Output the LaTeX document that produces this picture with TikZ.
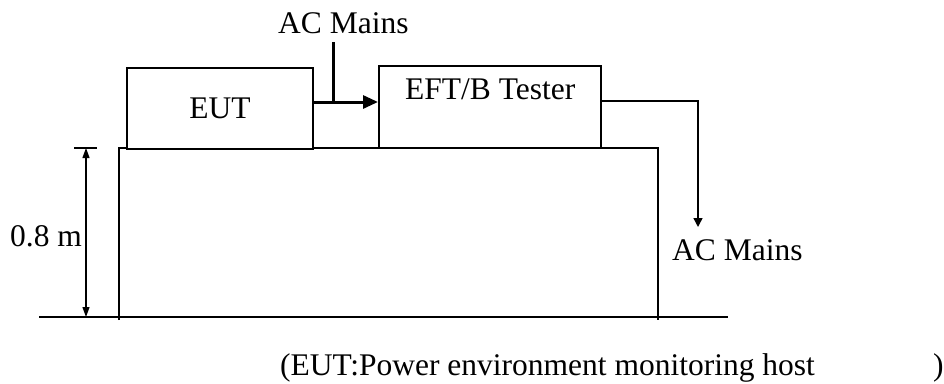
\documentclass[tikz,border=0pt]{standalone}
\usepackage{fontspec}
\setmainfont{Liberation Serif}
\usetikzlibrary{arrows.meta}
\begin{document}
\begin{tikzpicture}[x=1pt,y=-1pt,
  txt/.style={inner sep=0pt,anchor=base west,font=\fontsize{31.5}{36}\selectfont},
  boxnode/.style={draw,line width=2pt,fill=white,inner sep=0pt,font=\fontsize{31.5}{36}\selectfont},
  thinline/.style={line width=1.4pt},
  thickarrow/.style={line width=3pt,-{Triangle[length=15pt,width=13pt]}},
  thinarrow/.style={line width=1.4pt,-{Triangle[length=9pt,width=9pt]}},
  dimarrow/.style={line width=1.2pt,{Triangle[length=10pt,width=7pt]}-{Triangle[length=10pt,width=7pt]}}]
\useasboundingbox (0,0) rectangle (944,383);
\fill[white] (0,0) rectangle (944,383);
% table
\coordinate (tbl) at (119,320);
\coordinate (ttl) at (119,148);
\coordinate (ttr) at (658,148);
\coordinate (tbr) at (658,320);
\draw[thinline] (tbl) -- (ttl) -- (ttr) -- (tbr);
% ground
\coordinate (g1) at (39,317);
\coordinate (g2) at (728,317);
\draw[line width=2pt] (g1) -- (g2);
% boxes
\node[boxnode,minimum width=186pt,minimum height=81pt] (eut) at (220,108.5) {EUT};
\node[boxnode,minimum width=222pt,minimum height=82pt] (eft) at (490,107) {};
\node[txt] (eftlabel) at (405,99) {EFT/B Tester};
% AC mains top
\node[txt] (acm1) at (278,33) {AC Mains};
\coordinate (acmtop) at (333,42);
\coordinate (j) at (333,102);
\draw[line width=3pt] (acmtop) -- (j);
\draw[thickarrow] (eut.east |- j) -- (eft.west |- j);
% AC mains right
\coordinate (cout) at (698,227);
\draw[thinarrow] (eft.east |- 0,101) -| (cout);
\node[txt] (acm2) at (672,260) {AC Mains};
% dimension
\coordinate (d1) at (86,148);
\coordinate (d2) at (86,317);
\coordinate (tk1) at (74,148);
\coordinate (tk2) at (97,148);
\draw[line width=1.6pt] (tk1) -- (tk2);
\draw[dimarrow] (d1) -- (d2);
\node[txt] (dimlabel) at (10,246) {0.8 m};
% caption
\node[txt] (cap) at (280,375) {(EUT:Power environment monitoring host};
\node[txt] (capend) at (933,375) {)};
\end{tikzpicture}
\end{document}
